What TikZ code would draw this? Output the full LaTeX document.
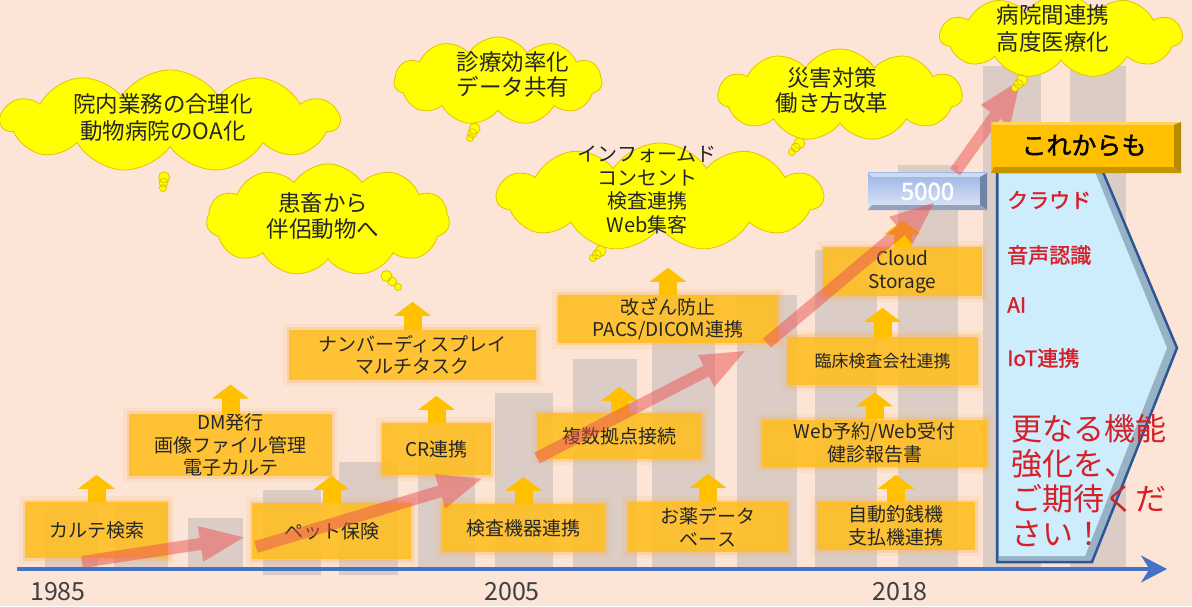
\documentclass[tikz,border=0pt]{standalone}
\usepackage{fontspec}
\setmainfont{Noto Sans CJK JP}[AutoFakeBold=1.5]
\usetikzlibrary{positioning,shapes.callouts,arrows.meta}
\definecolor{peach}{RGB}{252,229,214}
\definecolor{boxorange}{RGB}{255,190,30}
\definecolor{glow}{RGB}{250,175,80}
\definecolor{bargray}{RGB}{170,170,175}
\definecolor{trendred}{RGB}{235,80,80}
\definecolor{bubbleyellow}{RGB}{255,255,0}
\definecolor{bubbleline}{RGB}{226,194,0}
\definecolor{axisblue}{RGB}{68,114,196}
\definecolor{futureblue}{RGB}{205,236,252}
\definecolor{futureline}{RGB}{47,85,151}
\definecolor{futureshade}{RGB}{150,178,196}
\definecolor{alertred}{RGB}{214,32,40}
\definecolor{gold}{RGB}{255,192,0}
\definecolor{golddark}{RGB}{184,138,0}
\definecolor{countdark}{RGB}{112,132,165}
\definecolor{inktext}{RGB}{38,38,38}
\definecolor{yeargray}{RGB}{64,64,64}
\tikzset{node distance=2cm,
  feature/.style={fill=boxorange, fill opacity=.88, text opacity=1, text=inktext, align=center,
    inner sep=0pt, font=\fontsize{19}{22.5}\selectfont,
    preaction={draw=glow, line width=12pt, draw opacity=.12},
    preaction={draw=glow, line width=5pt, draw opacity=.25}},
  uparrow/.style={draw=gold, line width=18pt, -{Triangle[width=36pt,length=14pt]}},
  trend/.style={draw=trendred, line width=12pt, -{Triangle[width=32pt,length=46pt]}},
  bar/.style={fill=bargray, fill opacity=.4},
  bubble/.style={cloud callout, cloud puffs=11, cloud puff arc=115, cloud ignores aspect,
    fill=bubbleyellow, draw=bubbleline, line width=.8pt, inner sep=0pt,
    callout pointer segments=3, callout pointer start size=13pt, callout pointer end size=7pt},
  bubtext/.style={text=inktext, align=center, font=\fontsize{22.5}{26.5}\selectfont},
  year/.style={text=yeargray, font=\fontsize{25}{25}\selectfont},
  future/.style={text=alertred, anchor=west, inner sep=0pt, font=\bfseries\fontsize{21}{21}\selectfont}}

\begin{document}
\begin{tikzpicture}[x=1pt,y=1pt]
  \useasboundingbox (0,0) rectangle (1192,606);
  \fill[peach] (0,0) rectangle (1192,606);

  % bars behind the timeline
  \fill[bar] (45,39) rectangle (98,96);
  \fill[bar] (114,39) rectangle (168,101);
  \fill[bar] (188,39) rectangle (243,88);
  \fill[bar] (263,31) rectangle (321,116);
  \fill[bar] (339,31) rectangle (398,144);
  \fill[bar] (418,39) rectangle (475,176);
  \fill[bar] (495,39) rectangle (553,213);
  \fill[bar] (573,39) rectangle (637,247);
  \fill[bar] (652,39) rectangle (715,311);
  \fill[bar] (737,39) rectangle (797,311);
  \fill[bar] (815,39) rectangle (877,356);
  \fill[bar] (898,39) rectangle (958,441);
  \fill[bar] (983,39) rectangle (1041,540);
  \fill[bar] (1070,39) rectangle (1126,540);

  % axis
  \coordinate (axstart) at (17,37);
  \coordinate (axend) at (1167,37);
  \draw[draw=axisblue, line width=3.5pt, -{Stealth[length=26pt,width=27pt]}] (axstart) -- (axend);
  \node[year] (y1985) at (58,14) {1985};
  \node[year] (y2005) at (512,14) {2005};
  \node[year] (y2018) at (900,14) {2018};

  % features
  \node[feature, minimum width=143pt, minimum height=56pt] (karte) at (96.5,76) {カルテ検索};
  \node[feature, minimum width=203pt, minimum height=60pt] (dm) at (230.5,161) {DM発行\\画像ファイル管理\\電子カルテ};
  \node[feature, minimum width=159pt, minimum height=56pt] (pet) at (331.5,75) {ペット保険};
  \node[feature, minimum width=109pt, minimum height=52pt] (cr) at (436.5,157) {CR連携};
  \node[feature, minimum width=247pt, minimum height=50pt] (numdisp) at (412.5,251) {ナンバーディスプレイ\\マルチタスク};
  \node[feature, minimum width=163pt, minimum height=48pt] (kensa) at (523.5,78) {検査機器連携};
  \node[feature, minimum width=165pt, minimum height=46pt] (kyoten) at (619.5,170) {複数拠点接続};
  \node[feature, minimum width=220pt, minimum height=48pt] (kaizan) at (668,287) {改ざん防止\\PACS/DICOM連携};
  \node[feature, minimum width=160pt, minimum height=50pt] (okusuri) at (708,79) {お薬データ\\ベース};
  \node[feature, minimum width=158pt, minimum height=48pt] (jido) at (896,80) {自動釣銭機\\支払機連携};
  \node[feature, minimum width=225pt, minimum height=47pt] (webyoyaku) at (874.5,163) {Web予約/Web受付\\健診報告書};
  \node[feature, minimum width=191pt, minimum height=48pt, font=\fontsize{17}{20}\selectfont] (rinsho) at (882.5,245) {臨床検査会社連携};
  \node[feature, minimum width=159pt, minimum height=49pt] (cloudst) at (902.5,334) {Cloud\\Storage};

  \draw[uparrow] (karte.north) -- ++(0,27);
  \draw[uparrow] (dm.north) -- ++(0,29);
  \draw[uparrow] (pet.north) -- ++(0,27);
  \draw[uparrow] (cr.north) -- ++(0,27);
  \draw[uparrow] (numdisp.north) -- ++(0,28);
  \draw[uparrow] (kensa.north) -- ++(0,27);
  \draw[uparrow] (kyoten.north) -- ++(0,26);
  \draw[uparrow] (kaizan.north) -- ++(0,27);
  \draw[uparrow] (okusuri.north) -- ++(0,28);
  \draw[uparrow] (jido.north) -- ++(0,27);
  \draw[uparrow] (webyoyaku.north) -- ++(0,27);
  \draw[uparrow] (rinsho.north) -- ++(0,29);
  \draw[uparrow] (cloudst.north) -- ++(0,27);

  % the 5000 label
  \node[minimum width=119pt, minimum height=37pt, inner sep=0pt, top color={rgb,255:red,155;green,180;blue,230},
    bottom color={rgb,255:red,225;green,232;blue,248}] (count) at (927.5,414.5) {};
  \fill[countdark] (count.north east) -- (count.south east) -- ([shift={(-7,5)}]count.south east) -- ([shift={(-7,-4)}]count.north east) -- cycle;
  \fill[countdark!75] (count.south west) -- (count.south east) -- ([shift={(-7,5)}]count.south east) -- ([shift={(4,5)}]count.south west) -- cycle;
  \fill[white, opacity=.5] (count.north west) -- (count.north east) -- ([shift={(-7,-4)}]count.north east) -- ([shift={(4,-4)}]count.north west) -- cycle;
  \node[text=white, font=\bfseries\fontsize{24}{24}\selectfont] (countlabel) at (count) {5000};

  % trend
  \coordinate (t1s) at (82,44);   \coordinate (t1e) at (246,69);
  \coordinate (t2s) at (256,59);  \coordinate (t2e) at (484,128);
  \coordinate (t3s) at (537,148); \coordinate (t3e) at (747,256);
  \coordinate (t4s) at (767,263); \coordinate (t4e) at (936,405);
  \coordinate (t5s) at (955,434); \coordinate (t5e) at (1022,528);
  \begin{scope}[transparency group, opacity=.5]
    \draw[trend] (t1s) -- (t1e);
    \draw[trend] (t2s) -- (t2e);
    \draw[trend] (t3s) -- (t3e);
    \draw[trend] (t4s) -- (t4e);
    \draw[trend] (t5s) -- (t5e);
  \end{scope}

  % thought bubbles
  \node[bubble, minimum width=338pt, minimum height=102pt, callout absolute pointer={(163,418)}] (goriha) at (170,485) {};
  \node[bubtext] at (163,488.5) {院内業務の合理化\\動物病院のOA化};
  \node[bubble, minimum width=243pt, minimum height=112pt, callout absolute pointer={(398,319)}] (hanryo) at (328,386) {};
  \node[bubtext] at (323,390) {患畜から\\伴侶動物へ};
  \node[bubble, minimum width=208pt, minimum height=88pt, callout absolute pointer={(470,468)}] (kouritsu) at (498,525) {};
  \node[bubtext, font=\fontsize{22.5}{25}\selectfont] at (513,531.5) {診療効率化\\データ共有};
  \node[bubble, minimum width=326pt, minimum height=108pt, callout absolute pointer={(593,348)}] (infomu) at (660,409) {};
  \node[bubtext, font=\fontsize{20}{23.5}\selectfont] at (647,416) {インフォームド\\コンセント\\検査連携\\Web集客};
  \node[bubble, minimum width=244pt, minimum height=92pt, callout absolute pointer={(792,454)}] (saigai) at (840,511) {};
  \node[bubtext, font=\fontsize{22.5}{25}\selectfont] at (832,515.5) {災害対策\\働き方改革};
  \node[bubble, minimum width=242pt, minimum height=84pt, callout absolute pointer={(1015,518)}] (renkei) at (1061,570) {};
  \node[bubtext] at (1053,577.5) {病院間連携\\高度医療化};

  % what comes next
  \fill[futureshade] (997,434) -- (1103,434) -- (1177,258) -- (1092,44) -- (997,44) -- cycle;
  \fill[futureblue] (999,434) -- (1095,434) -- (1167,258) -- (1085,50) -- (999,50) -- cycle;
  \draw[futureline, line width=2.5pt] (997,434) -- (1103,434) -- (1177,258) -- (1092,44) -- (997,44) -- cycle;

  \node[fill=gold, minimum width=190pt, minimum height=51pt, inner sep=0pt] (ahead) at (1086,458.5) {};
  \fill[golddark] (ahead.north east) -- (ahead.south east) -- ([shift={(-7,6)}]ahead.south east) -- ([shift={(-7,-3)}]ahead.north east) -- cycle;
  \fill[golddark!80!gold] (ahead.south west) -- (ahead.south east) -- ([shift={(-7,6)}]ahead.south east) -- ([shift={(3,6)}]ahead.south west) -- cycle;
  \fill[white, opacity=.35] (ahead.north west) -- (ahead.north east) -- ([shift={(-7,-3)}]ahead.north east) -- ([shift={(3,-3)}]ahead.north west) -- cycle;
  \node[text=black, font=\bfseries\fontsize{25}{25}\selectfont] (aheadlabel) at ([shift={(-2,2)}]ahead) {これからも};

  \node[future] (kuraudo) at (1007,406) {クラウド};
  \node[future] (onsei) at (1007,351) {音声認識};
  \node[future] (ai) at (1007,301) {AI};
  \node[future] (iot) at (1007,248) {IoT連携};
  \node[future, align=left, font=\fontsize{31}{35}\selectfont] (sarani) at (1011,125.5) {更なる機能\\強化を、\\ご期待くだ\\さい！};
\end{tikzpicture}
\end{document}
